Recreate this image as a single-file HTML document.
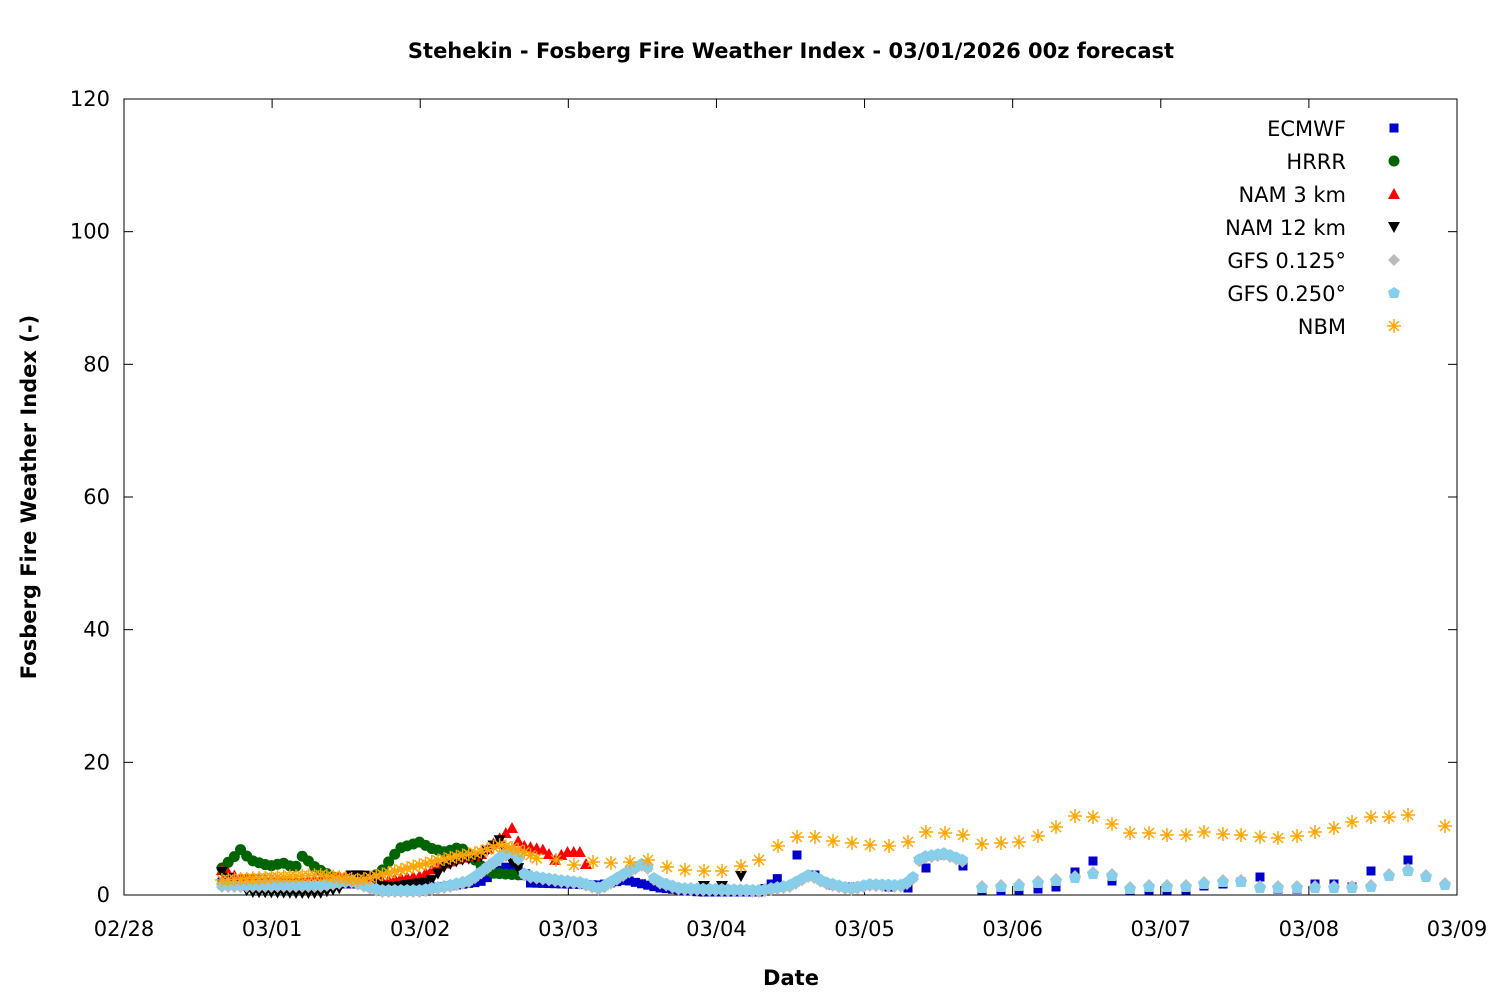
<!DOCTYPE html>
<html><head><meta charset="utf-8"><style>
body{margin:0;background:#fff}
svg text{font-family:"DejaVu Sans","Liberation Sans",sans-serif}
</style></head><body>
<svg id="s" width="1500" height="1000" xmlns="http://www.w3.org/2000/svg">
<rect width="1500" height="1000" fill="#fff"/>
<text x="791" y="58" font-size="21" font-weight="bold" text-anchor="middle">Stehekin - Fosberg Fire Weather Index - 03/01/2026 00z forecast</text>
<rect x="124" y="99" width="1333" height="796" fill="none" stroke="#000" stroke-width="1"/>
<g id="ticks" stroke="#000" stroke-width="1"></g>
<g id="lab" font-size="21" fill="#000"></g>
<text x="791" y="985" font-size="21" font-weight="bold" text-anchor="middle">Date</text>
<text transform="translate(36,497) rotate(-90)" font-size="21" font-weight="bold" text-anchor="middle">Fosberg Fire Weather Index (-)</text>
<g id="leg" font-size="21" text-anchor="end"></g>
<g id="data"></g>
</svg>
<script>
const NS="http://www.w3.org/2000/svg";
function el(p,t,a,txt){const e=document.createElementNS(NS,t);for(const k in a)e.setAttribute(k,a[k]);if(txt!=null)e.textContent=txt;document.getElementById(p).appendChild(e);return e;}
// y ticks
for(let v=0;v<=120;v+=20){const y=895-v*796/120;
 el('ticks','line',{x1:124,y1:y,x2:133,y2:y});el('ticks','line',{x1:1448,y1:y,x2:1457,y2:y});
 el('lab','text',{x:110,y:y+7,'text-anchor':'end'},String(v));}
const dates=['02/28','03/01','03/02','03/03','03/04','03/05','03/06','03/07','03/08','03/09'];
for(let i=0;i<10;i++){const x=124+i*1333/9;
 el('ticks','line',{x1:x,y1:895,x2:x,y2:886});el('ticks','line',{x1:x,y1:99,x2:x,y2:108});
 el('lab','text',{x:x,y:936,'text-anchor':'middle'},dates[i]);}
function mk(type,x,y,c){
 if(type=='sq')el('data','rect',{x:x-4.5,y:y-4.5,width:9,height:9,fill:c});
 else if(type=='ci')el('data','circle',{cx:x,cy:y,r:5.5,fill:c});
 else if(type=='up')el('data','polygon',{points:`${x},${y-6} ${x+6},${y+5} ${x-6},${y+5}`,fill:c});
 else if(type=='dn')el('data','polygon',{points:`${x},${y+6} ${x+6},${y-5} ${x-6},${y-5}`,fill:c});
 else if(type=='di')el('data','polygon',{points:`${x},${y-6} ${x+6},${y} ${x},${y+6} ${x-6},${y}`,fill:c});
 else if(type=='pe')el('data','polygon',{points:`${x},${y-6} ${x+6},${y-2} ${x+4},${y+5} ${x-4},${y+5} ${x-6},${y-2}`,fill:c});
 else if(type=='st'){const g=`M${x-7},${y}h14M${x},${y-7}v14M${x-5},${y-5}l10,10M${x+5},${y-5}l-10,10`;el('data','path',{d:g,stroke:c,'stroke-width':1.5,fill:'none'});}
}
function interp(k,step){const out=[];for(let x=k[0][0];x<=k[k.length-1][0];x+=step){let i=0;while(i<k.length-2&&k[i+1][0]<x)i++;const a=k[i],b=k[i+1];const t=(x-a[0])/(b[0]-a[0]);out.push([x,a[1]+(b[1]-a[1])*Math.max(0,Math.min(1,t))]);}return out;}
const H=6.17;
function draw(type,c,knots,pts){interp(knots,H).forEach(p=>mk(type,p[0],p[1],c));(pts||[]).forEach(p=>mk(type,p[0],p[1],c));}
// legend
const L=[['ECMWF','sq','#0000cc'],['HRRR','ci','#006400'],['NAM 3 km','up','#ff0000'],['NAM 12 km','dn','#000'],['GFS 0.125°','di','#bbbbbb'],['GFS 0.250°','pe','#87ceeb'],['NBM','st','#ffa500']];
L.forEach((l,i)=>{const y=128+i*33;el('leg','text',{x:1346,y:y+8},l[0]);});
// series
draw('sq','#0000cc',[[222,882],[320,884],[360,884],[390,888],[440,887],[480,882],[505,867],[520,870],[530,883],[600,885],[625,880],[660,888],[700,892],[760,892],[770,885],[778,878]],
 [[797,855],[815,875],[833,885],[852,887],[870,885],[889,887],[908,888],[926,868],[945,855],[963,866],[982,890],[1001,891],[1019,890],[1038,889],[1056,887],[1075,872],[1093,861],[1112,881],[1130,890],[1149,890],[1167,890],[1186,890],[1204,886],[1223,884],[1241,882],[1260,877],[1278,889],[1297,889],[1315,884],[1334,884],[1352,887],[1371,871],[1408,860]]);
draw('ci','#006400',[[222,868],[235,856],[241,849],[250,860],[270,866],[283,863],[295,868],[303,855],[312,865],[320,870],[335,878],[360,882],[380,873],[390,860],[400,848],[420,842],[430,848],[445,852],[460,847],[470,855],[480,865],[490,873],[520,875]]);
draw('up','#ff0000',[[222,870],[240,878],[320,880],[340,876],[360,880],[380,882],[400,878],[420,876],[440,865],[460,858],[480,855],[500,838],[512,828],[520,845],[545,850],[555,860],[565,852],[580,852],[590,872]]);
draw('dn','#000',[[222,872],[235,884],[250,892],[300,893],[320,893],[340,888],[352,875],[370,876],[385,888],[430,882],[445,866],[460,860],[480,857],[500,840],[510,860],[530,880]],[[704,886],[722,886],[741,876]]);
const gk=[[222,885],[320,885],[350,880],[380,890],[420,890],[450,885],[470,880],[500,857],[515,850],[525,875],[560,880],[580,882],[600,888],[630,870],[645,862],[655,880],[680,888],[760,890],[790,885],[810,874],[825,882],[850,888],[870,884],[900,885],[912,880],[920,857],[945,853],[963,860]];
const gp=[[982,888],[1001,887],[1019,886],[1038,883],[1056,881],[1075,878],[1093,874],[1112,876],[1130,889],[1149,887],[1167,887],[1186,887],[1204,884],[1223,882],[1241,882],[1260,888],[1278,888],[1297,888],[1315,888],[1334,888],[1352,888],[1371,887],[1389,876],[1408,871],[1426,877],[1445,885]];
draw('di','#bbbbbb',gk.map(p=>[p[0],p[1]+2]),gp.map(p=>[p[0],p[1]-2]));
draw('pe','#87ceeb',gk,gp);
draw('st','#ffa500',[[222,880],[320,875],[360,880],[400,870],[440,860],[480,852],[500,845],[520,850],[540,860]],
 [[556,860],[574,865],[593,862],[611,863],[630,862],[648,860],[667,867],[685,870],[704,871],[722,871],[741,866],[759,860],[778,846],[797,837],[815,837],[833,841],[852,843],[870,845],[889,846],[908,842],[926,832],[945,833],[963,835],[982,844],[1001,843],[1019,842],[1038,836],[1056,827],[1075,816],[1093,817],[1112,824],[1130,833],[1149,833],[1167,835],[1186,835],[1204,832],[1223,834],[1241,835],[1260,837],[1278,838],[1297,836],[1315,832],[1334,828],[1352,822],[1371,817],[1389,817],[1408,815],[1445,826]]);
L.forEach((l,i)=>mk(l[1],1394,128+i*33,l[2]));
</script>
</body></html>
